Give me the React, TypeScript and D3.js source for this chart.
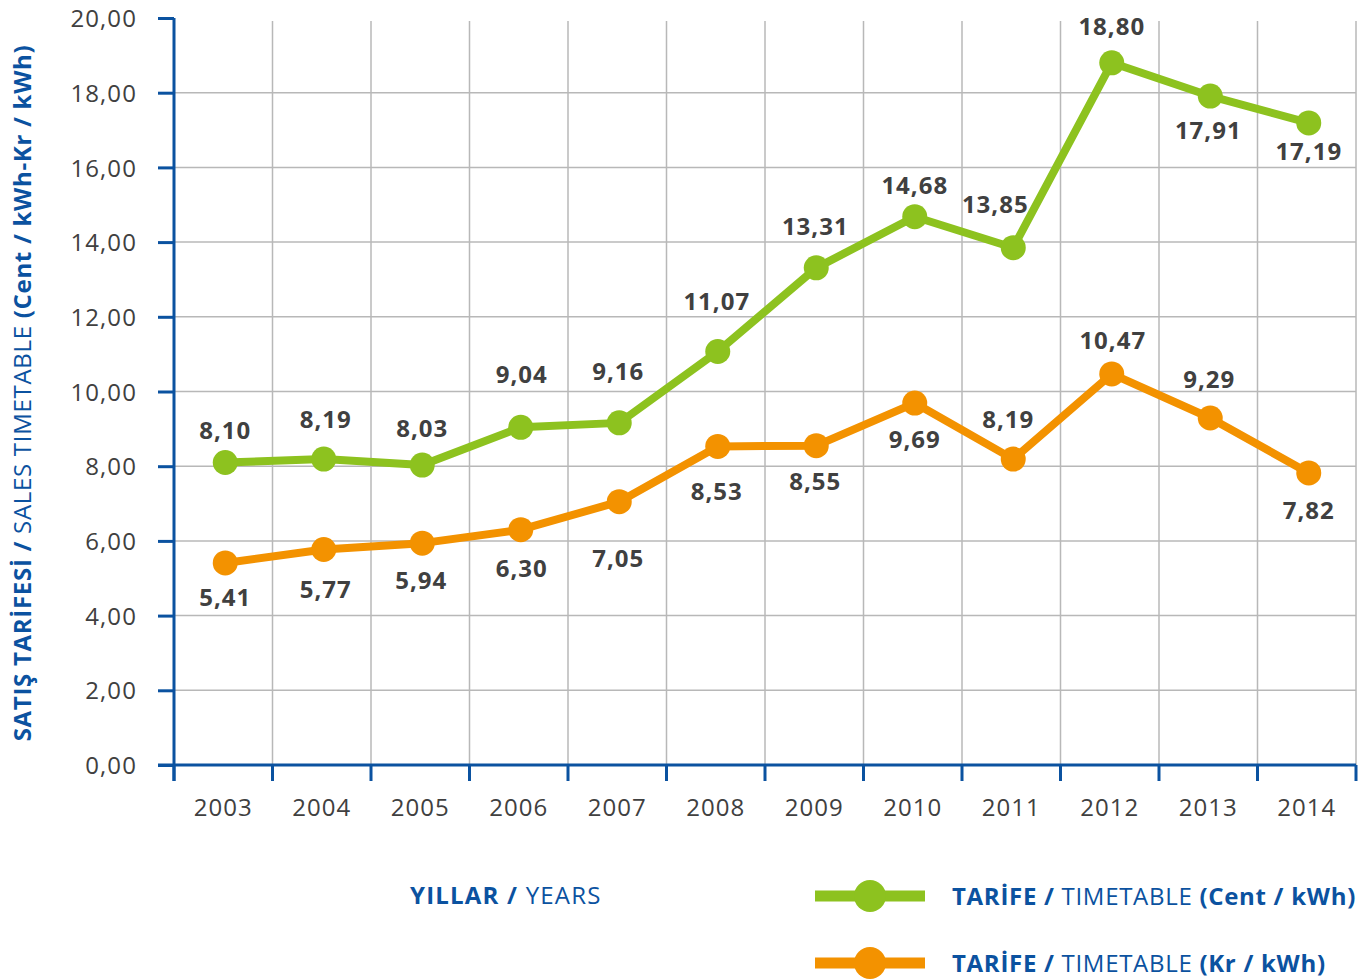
import * as d3 from "d3";
import { useEffect, useRef } from "react";

const years = ["2003", "2004", "2005", "2006", "2007", "2008", "2009", "2010", "2011", "2012", "2013", "2014"];
const centValues = [8.1, 8.19, 8.03, 9.04, 9.16, 11.07, 13.31, 14.68, 13.85, 18.8, 17.91, 17.19];
const krValues = [5.41, 5.77, 5.94, 6.3, 7.05, 8.53, 8.55, 9.69, 8.19, 10.47, 9.29, 7.82];
const yTicks = [0, 2, 4, 6, 8, 10, 12, 14, 16, 18, 20];

// label offsets from point centre (layout only)
const centLabelOffsets = [
  [0, -32], [2, -40], [0, -37], [1, -53], [-1, -52], [-1, -50],
  [-1, -42], [0, -31], [-18, -43], [0, -36], [-2, 34], [0, 28],
];
const krLabelOffsets = [
  [0, 34], [2, 40], [-1, 37], [1, 39], [-1, 57], [-1, 45],
  [-1, 36], [0, 36], [-5, -40], [1, -34], [-1, -39], [0, 37],
];

const BLUE = "#0b52a0";
const GREEN = "#8dc21f";
const ORANGE = "#f39200";
const TEXT = "#404040";
const FONT = "'Open Sans', sans-serif";

const comma = d3.formatLocale({ decimal: ",", thousands: ".", grouping: [3], currency: ["", ""] }).format(".2f");

export default function App() {
  const svgRef = useRef<SVGSVGElement>(null);
  const width = 1366;
  const height = 979;
  const left = 174;
  const right = 1356;
  const top = 18;
  const bottom = 765;

  useEffect(() => {
    const svg = d3.select(svgRef.current);
    svg.selectAll("*").remove();

    const x = d3.scaleBand().domain(years).range([left, right]).padding(0);
    const y = d3.scaleLinear().domain([0, 20]).range([bottom, top]);
    const cx = (d: string) => (x(d) || 0) + x.bandwidth() / 2 + 2;

    // grid
    const grid = svg.append("g").attr("stroke", "#b8b8b8").attr("stroke-width", 1.5);
    grid
      .selectAll(".hg")
      .data(yTicks.filter((t) => t > 0 && t < 20))
      .enter()
      .append("line")
      .attr("x1", left)
      .attr("x2", right)
      .attr("y1", (d) => y(d))
      .attr("y2", (d) => y(d));
    grid
      .selectAll(".vg")
      .data(years)
      .enter()
      .append("line")
      .attr("x1", (d) => (x(d) || 0) + x.bandwidth())
      .attr("x2", (d) => (x(d) || 0) + x.bandwidth())
      .attr("y1", 21)
      .attr("y2", bottom);

    // y axis
    const yAxis = svg
      .append("g")
      .attr("transform", `translate(${left},0)`)
      .call(d3.axisLeft(y).tickValues(yTicks).tickSize(16).tickPadding(21).tickFormat((d) => comma(d as number)));
    yAxis.select(".domain").attr("stroke", BLUE).attr("stroke-width", 3).attr("d", `M0,${top}V${bottom + 16}`);
    yAxis.selectAll(".tick line").attr("stroke", BLUE).attr("stroke-width", 3);
    yAxis
      .selectAll(".tick text")
      .attr("fill", TEXT)
      .attr("font-family", FONT)
      .attr("font-size", 24)
      .attr("letter-spacing", 1.1)
      .attr("dy", "0.36em");

    // x axis
    const xAxis = svg
      .append("g")
      .attr("transform", `translate(0,${bottom})`)
      .call(d3.axisBottom(x).tickSize(0).tickPadding(34));
    xAxis.select(".domain").attr("stroke", BLUE).attr("stroke-width", 3).attr("d", `M${left - 16},0H${right}`);
    xAxis
      .selectAll(".tick text")
      .attr("fill", TEXT)
      .attr("font-family", FONT)
      .attr("font-size", 24)
      .attr("letter-spacing", 1)
      .attr("dx", 0);
    xAxis
      .selectAll(".edge")
      .data(years.concat(["start"]))
      .enter()
      .append("line")
      .attr("x1", (d) => (d === "start" ? left : (x(d) || 0) + x.bandwidth()))
      .attr("x2", (d) => (d === "start" ? left : (x(d) || 0) + x.bandwidth()))
      .attr("y1", 0)
      .attr("y2", 16)
      .attr("stroke", BLUE)
      .attr("stroke-width", 3);

    // series
    const series = [
      { values: centValues, color: GREEN, offsets: centLabelOffsets },
      { values: krValues, color: ORANGE, offsets: krLabelOffsets },
    ];
    const line = d3
      .line<number>()
      .x((_, i) => cx(years[i]))
      .y((d) => y(d));

    series.forEach((s) => {
      svg
        .append("path")
        .datum(s.values)
        .attr("d", line)
        .attr("fill", "none")
        .attr("stroke", s.color)
        .attr("stroke-width", 8)
        .attr("stroke-linejoin", "round");
      svg
        .append("g")
        .selectAll("circle")
        .data(s.values)
        .enter()
        .append("circle")
        .attr("cx", (_, i) => cx(years[i]))
        .attr("cy", (d) => y(d))
        .attr("r", 12.5)
        .attr("fill", s.color);
      svg
        .append("g")
        .selectAll("text")
        .data(s.values)
        .enter()
        .append("text")
        .attr("x", (_, i) => cx(years[i]) + s.offsets[i][0])
        .attr("y", (d, i) => y(d) + s.offsets[i][1])
        .attr("dy", "0.36em")
        .attr("text-anchor", "middle")
        .attr("font-family", FONT)
        .attr("font-weight", 700)
        .attr("font-size", 24)
        .attr("letter-spacing", 1)
        .attr("fill", TEXT)
        .text((d) => comma(d));
    });

    // y title
    const yt = svg
      .append("text")
      .attr("transform", "translate(31,393) rotate(-90)")
      .attr("text-anchor", "middle")
      .attr("font-family", FONT)
      .attr("font-size", 24)
      .attr("letter-spacing", 0.7)
      .attr("fill", BLUE);
    yt.append("tspan").attr("font-weight", 700).text("SATIŞ TARİFESİ / ");
    yt.append("tspan").text("SALES TIMETABLE ");
    yt.append("tspan").attr("font-weight", 700).text("(Cent / kWh-Kr / kWh)");

    // x title
    const xt = svg
      .append("text")
      .attr("x", 410)
      .attr("y", 904)
      .attr("font-family", FONT)
      .attr("font-size", 24)
      .attr("letter-spacing", 1.2)
      .attr("fill", BLUE);
    xt.append("tspan").attr("font-weight", 700).text("YILLAR / ");
    xt.append("tspan").text("YEARS");

    // legend
    const legend = [
      { color: GREEN, unit: "(Cent / kWh)", y: 896 },
      { color: ORANGE, unit: "(Kr / kWh)", y: 963 },
    ];
    legend.forEach((l) => {
      svg
        .append("line")
        .attr("x1", 815)
        .attr("x2", 925)
        .attr("y1", l.y)
        .attr("y2", l.y)
        .attr("stroke", l.color)
        .attr("stroke-width", 11);
      svg.append("circle").attr("cx", 870).attr("cy", l.y).attr("r", 16).attr("fill", l.color);
      const t = svg
        .append("text")
        .attr("x", 952)
        .attr("y", l.y + 9)
        .attr("font-family", FONT)
        .attr("font-size", 24)
        .attr("letter-spacing", 0.7)
        .attr("fill", BLUE);
      t.append("tspan").attr("font-weight", 700).text("TARİFE / ");
      t.append("tspan").text("TIMETABLE ");
      t.append("tspan").attr("font-weight", 700).text(l.unit);
    });
  }, []);

  return (
    <div style={{ position: "absolute", left: 0, top: 0 }}>
      <svg ref={svgRef} width={width} height={height} style={{ display: "block", background: "#fff" }}></svg>
    </div>
  );
}
